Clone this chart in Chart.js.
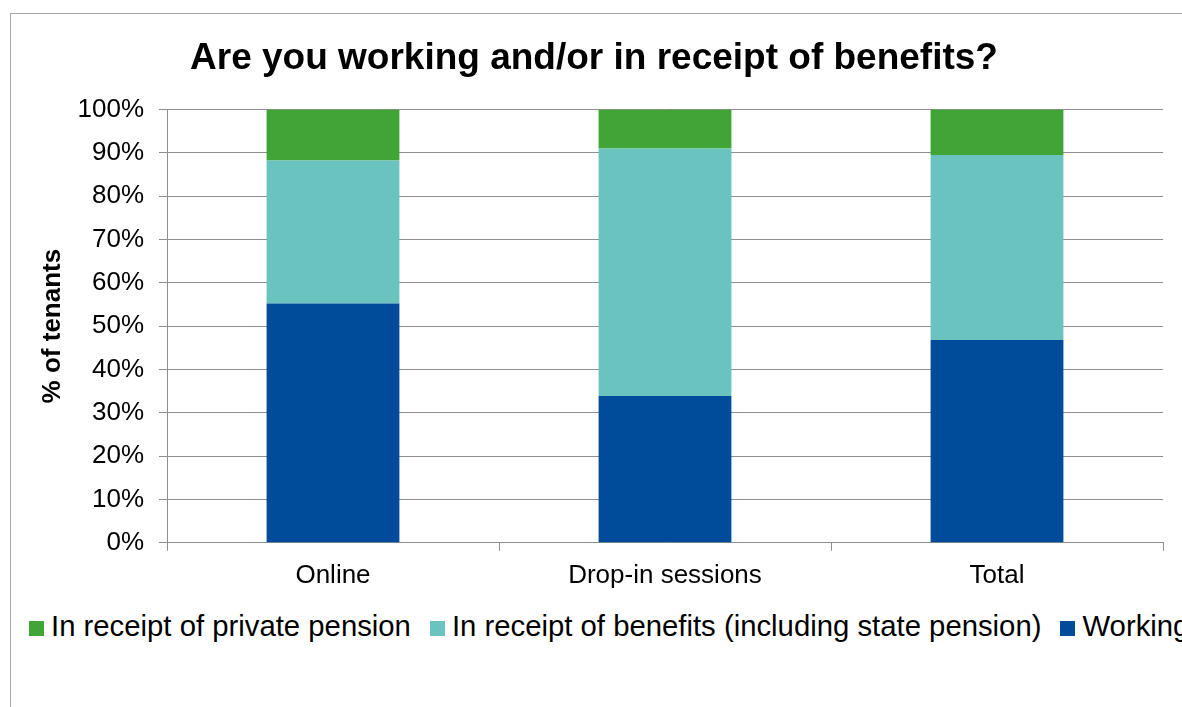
<!DOCTYPE html>
<html>
<head>
<meta charset="utf-8">
<script src="https://cdn.jsdelivr.net/npm/chart.js@4"></script>
<style>
  html, body { margin: 0; padding: 0; background: #fff; overflow: hidden; }
  body { width: 1182px; height: 707px; position: relative; font-family: "Liberation Sans", Arial, sans-serif; }
  #frame { position: absolute; left: 10px; top: 13px; width: 1240px; height: 760px; border: 1px solid #a6a6a6; }
  #wrap { position: absolute; left: 0; top: 0; width: 1182px; height: 600px; }
  #legend { position: absolute; left: 29px; top: 609px; white-space: nowrap; font-size: 29.3px; color: #000; }
  #legend span.item { display: inline-flex; align-items: center; margin-right: 19px; }
  #legend span.box { display: inline-block; width: 15px; height: 15px; margin-right: 7px; margin-top: 5px; }
</style>
</head>
<body>
<div id="frame"></div>
<div id="wrap"><canvas id="tenantsChart"></canvas></div>
<div id="legend"></div>
<script>
// data (percent of tenants)
const categories = ["Online", "Drop-in sessions", "Total"];
const working = [55.2, 33.9, 46.8];
const benefits = [33.0, 57.1, 42.7];
const privatePension = [11.8, 9.0, 10.5];
const yTicks = [0, 10, 20, 30, 40, 50, 60, 70, 80, 90, 100];

const seriesNames = [
  "Working",
  "In receipt of benefits (including state pension)",
  "In receipt of private pension",
];
const seriesColors = ["#004c9b", "#6bc3c0", "#41a437"];

document.addEventListener("DOMContentLoaded", function () {
  const ctx = document.getElementById("tenantsChart").getContext("2d");
  const font = "'Liberation Sans', Arial, sans-serif";
  const gridColor = "#8e8e8e";

  const tenantsChart = new Chart(ctx, {
    type: "bar",
    data: {
      labels: categories,
      datasets: [
        { label: seriesNames[0], data: working, backgroundColor: seriesColors[0] },
        { label: seriesNames[1], data: benefits, backgroundColor: seriesColors[1] },
        { label: seriesNames[2], data: privatePension, backgroundColor: seriesColors[2] },
      ],
    },
    options: {
      responsive: true,
      maintainAspectRatio: false,
      animation: false,
      barPercentage: 1,
      categoryPercentage: 0.4,
      layout: {
        padding: { left: 25, right: 19, top: 0, bottom: 0 },
      },
      scales: {
        x: {
          stacked: true,
          grid: {
            drawOnChartArea: false,
            drawTicks: true,
            tickLength: 8,
            color: gridColor,
          },
          border: { color: gridColor },
          ticks: {
            color: "#000",
            padding: 9,
            font: { family: font, size: 26 },
          },
        },
        y: {
          stacked: true,
          min: 0,
          max: 100,
          afterBuildTicks: function (scale) {
            scale.ticks = yTicks.map(function (v) { return { value: v }; });
          },
          afterFit: function (scale) {
            // plot area starts at x = 167
            scale.width = 142;
          },
          ticks: {
            color: "#000",
            padding: 15,
            font: { family: font, size: 26 },
            callback: function (value) {
              return value + "%";
            },
          },
          grid: {
            color: gridColor,
            tickLength: 8,
          },
          border: { color: gridColor },
          title: {
            display: true,
            text: "% of tenants",
            color: "#000",
            font: { family: font, size: 26, weight: "bold" },
            padding: { top: 12, bottom: 4 },
          },
        },
      },
      plugins: {
        legend: { display: false },
        tooltip: { enabled: false },
        title: {
          display: true,
          text: "Are you working and/or in receipt of benefits?",
          color: "#000",
          font: { family: font, size: 37, weight: "bold" },
          padding: { top: 37, bottom: 28 },
        },
      },
    },
  });

  // legend in the original order: top series first
  const legend = document.getElementById("legend");
  for (let i = seriesNames.length - 1; i >= 0; i--) {
    const item = document.createElement("span");
    item.className = "item";
    const box = document.createElement("span");
    box.className = "box";
    box.style.background = seriesColors[i];
    item.appendChild(box);
    item.appendChild(document.createTextNode(seriesNames[i]));
    legend.appendChild(item);
  }
});
</script>
</body>
</html>
